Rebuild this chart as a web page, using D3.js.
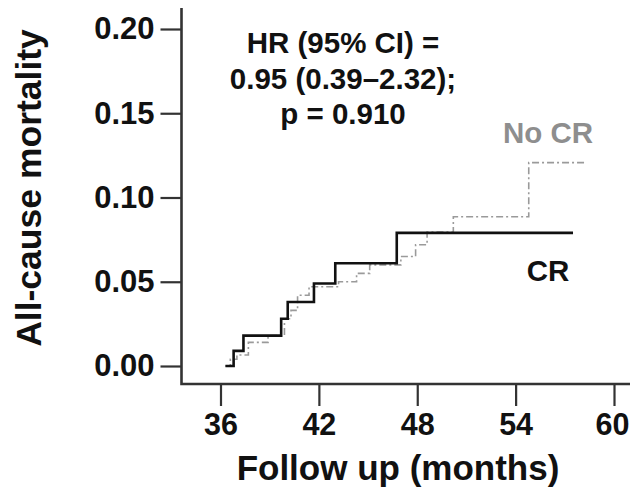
<!DOCTYPE html>
<html>
<head>
<meta charset="utf-8">
<script src="https://cdn.jsdelivr.net/npm/d3@7"></script>
<style>
  body { margin: 0; background: #fff; }
  svg { display: block; }
  text { font-family: "Liberation Sans", Arial, sans-serif; font-weight: bold; }
</style>
</head>
<body>
<div id="chart"></div>
<script>
const layout = {
    width: 630,
    height: 487,
    x0: 220.5, x1: 614,
    y0: 366, y1: 29
};

// Kaplan-Meier style cumulative mortality
const crMonths = [36.3, 36.8, 37.4, 39.7, 40.1, 41.7, 43.0, 46.75, 57.5];
const crMortality = [0, 0.009, 0.018, 0.028, 0.038, 0.049, 0.061, 0.079, 0.079];

const noCrMonths = [36.3, 36.6, 37.0, 37.7, 38.9, 39.9, 40.3, 40.7, 41.4, 43.2, 44.3, 45.1, 47.0, 47.9, 48.6, 50.2, 54.8, 58.2];
const noCrMortality = [0, 0.004, 0.0065, 0.014, 0.018, 0.028, 0.033, 0.042, 0.047, 0.050, 0.055, 0.060, 0.065, 0.072, 0.0795, 0.0886, 0.1207, 0.1207];

const xTicks = [36, 42, 48, 54, 60];
const yTicks = [0, 0.05, 0.10, 0.15, 0.20];
const annotation = ["HR (95% CI) =", "0.95 (0.39\u20132.32);", "p = 0.910"];

const svg = d3.select("#chart").append("svg")
    .attr("width", layout.width)
    .attr("height", layout.height);

const x = d3.scaleLinear().domain([36, 60]).range([layout.x0, layout.x1]);
const y = d3.scaleLinear().domain([0, 0.2]).range([layout.y0, layout.y1]);

const axisColor = "#333";

// y axis
let yAxis = svg.append("g")
    .attr("transform", "translate(181.5,0)")
    .call(d3.axisLeft(y).tickValues(yTicks).tickSize(21).tickSizeOuter(0).tickPadding(6)
        .tickFormat(d3.format(".2f")));
yAxis.select(".domain").remove();
yAxis.selectAll("line").attr("stroke", axisColor).attr("stroke-width", 2.2);
yAxis.selectAll("text").attr("font-size", 31).attr("fill", "#111")
    .attr("font-family", "Liberation Sans, Arial, sans-serif").attr("font-weight", "bold");

// x axis
let xAxis = svg.append("g")
    .attr("transform", "translate(0,384)")
    .call(d3.axisBottom(x).tickValues(xTicks).tickSize(22).tickSizeOuter(0).tickPadding(7));
xAxis.select(".domain").remove();
xAxis.selectAll("line").attr("stroke", axisColor).attr("stroke-width", 2.2);
xAxis.selectAll("text").attr("font-size", 30.5).attr("fill", "#111")
    .attr("font-family", "Liberation Sans, Arial, sans-serif").attr("font-weight", "bold");
// last label sits at the page edge, keep it inside
xAxis.selectAll("text").filter(d => d === 60).attr("dx", -2);

// spines
svg.append("path")
    .attr("d", `M181.5,${y(0.2125)}V384H630`)
    .attr("fill", "none")
    .attr("stroke", axisColor)
    .attr("stroke-width", 2.6);

// axis titles
svg.append("text")
    .attr("x", 398)
    .attr("y", 480)
    .attr("text-anchor", "middle")
    .attr("font-size", 35)
    .attr("fill", "#111")
    .text("Follow up (months)");

svg.append("text")
    .attr("transform", "translate(41,188) rotate(-90)")
    .attr("text-anchor", "middle")
    .attr("font-size", 35.5)
    .attr("fill", "#111")
    .text("All-cause mortality");

// curves
const stepLine = d3.line()
    .x(d => x(d[0]))
    .y(d => y(d[1]))
    .curve(d3.curveStepAfter);

svg.append("path")
    .datum(d3.zip(noCrMonths, noCrMortality))
    .attr("d", stepLine)
    .attr("fill", "none")
    .attr("stroke", "#9a9a9a")
    .attr("stroke-width", 1.6)
    .attr("stroke-dasharray", "7,3,2,3");

svg.append("path")
    .datum(d3.zip(crMonths, crMortality))
    .attr("d", stepLine)
    .attr("fill", "none")
    .attr("stroke", "#111")
    .attr("stroke-width", 2.6);

// labels
svg.append("text")
    .attr("x", 548).attr("y", 143)
    .attr("text-anchor", "middle")
    .attr("font-size", 29.5)
    .attr("fill", "#8e8e8e")
    .text("No CR");

svg.append("text")
    .attr("x", 548).attr("y", 281)
    .attr("text-anchor", "middle")
    .attr("font-size", 29.5)
    .attr("fill", "#111")
    .text("CR");

svg.selectAll(".note")
    .data(annotation)
    .enter().append("text")
    .attr("class", "note")
    .attr("x", 343)
    .attr("y", (d, i) => 53 + i * 35.5)
    .attr("text-anchor", "middle")
    .attr("font-size", 29.5)
    .attr("fill", "#111")
    .text(d => d);
</script>
</body>
</html>
